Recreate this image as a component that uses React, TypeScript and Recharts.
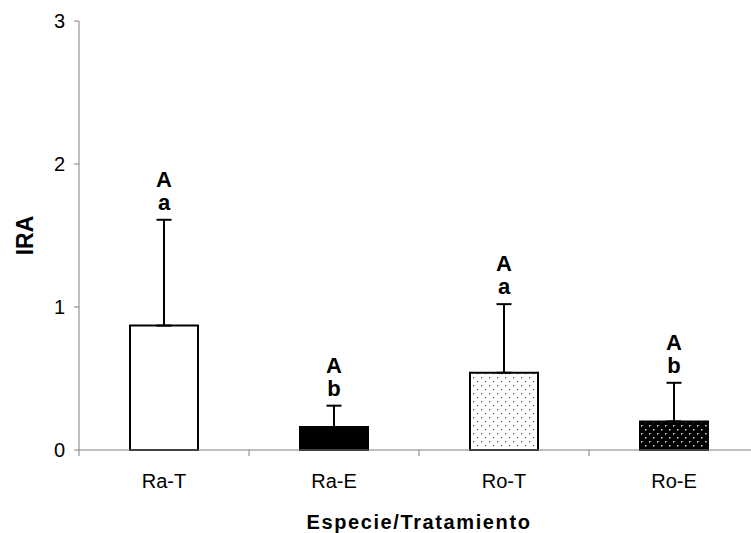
import { Bar, BarChart, Cell, ErrorBar, LabelList, XAxis, YAxis } from "recharts";

const categories = ["Ra-T", "Ra-E", "Ro-T", "Ro-E"];
const means = [0.87, 0.16, 0.54, 0.2];
const upperErrors = [0.74, 0.15, 0.48, 0.27];
const groupLetters = ["A", "A", "A", "A"];
const treatmentLetters = ["a", "b", "a", "b"];
const yTicks = [0, 1, 2, 3];

const fills = ["#ffffff", "#000000", "url(#dotsLight)", "url(#dotsDark)"];

const data = categories.map((name, i) => ({
  name,
  value: means[i],
  err: [0, upperErrors[i]],
}));

const FONT = "'Liberation Sans', Arial, sans-serif";

function CategoryTick(props: any) {
  const { x, y, payload } = props;
  const half = payload?.offset ?? 85;
  const axisY = y - 8;
  return (
    <g>
      <line x1={x - half} x2={x - half} y1={axisY} y2={axisY + 6} stroke="#808080" strokeWidth={1} />
      <text x={x} y={axisY + 38} textAnchor="middle" fontSize={20} fontFamily={FONT} fill="#000">
        {payload.value}
      </text>
    </g>
  );
}

function LetterLabel(props: any) {
  const { x, y, width, height, value } = props;
  const i = categories.indexOf(value);
  if (i < 0) return null;
  const perUnit = height / means[i];
  const capY = y - upperErrors[i] * perUnit;
  const cx = x + width / 2;
  return (
    <g fontFamily={FONT} fontWeight="bold" fontSize={22} fill="#000" textAnchor="middle">
      <text x={cx} y={capY - 33}>{groupLetters[i]}</text>
      <text x={cx} y={capY - 10}>{treatmentLetters[i]}</text>
    </g>
  );
}

export default function App() {
  return (
    <div
      style={{
        position: "absolute",
        left: 0,
        top: 0,
        width: 751,
        height: 533,
        overflow: "hidden",
        background: "#fff",
      }}
    >
      <BarChart
        width={770}
        height={533}
        data={data}
        margin={{ top: 21, right: 11, left: 0, bottom: 0 }}
      >
        <defs>
          <pattern id="dotsLight" width="8" height="8" patternUnits="userSpaceOnUse">
            <rect width="8" height="8" fill="#ffffff" />
            <rect x="1" y="1" width="1.2" height="1.2" fill="#555" />
            <rect x="5" y="5" width="1.2" height="1.2" fill="#555" />
          </pattern>
          <pattern id="dotsDark" width="8" height="8" patternUnits="userSpaceOnUse">
            <rect width="8" height="8" fill="#000000" />
            <rect x="1" y="1" width="1.5" height="1.5" fill="#d8d8d8" />
            <rect x="5" y="5" width="1.5" height="1.5" fill="#d8d8d8" />
          </pattern>
        </defs>
        <XAxis
          dataKey="name"
          height={83}
          tickLine={false}
          tickSize={6}
          tickMargin={2}
          axisLine={{ stroke: "#808080", strokeWidth: 1 }}
          tick={<CategoryTick />}
          interval={0}
          label={{
            content: (p: any) => {
              const vb = p.viewBox || { x: 79, y: 450, width: 680, height: 83 };
              return (
                <text
                  x={vb.x + vb.width / 2}
                  y={vb.y + 79}
                  textAnchor="middle"
                  fontFamily={FONT}
                  fontWeight="bold"
                  fontSize={20}
                  letterSpacing={1.6}
                  fill="#000"
                >
                  Especie/Tratamiento
                </text>
              );
            },
          }}
        />
        <YAxis
          width={79}
          domain={[0, 3]}
          ticks={yTicks}
          interval={0}
          tickSize={5}
          tickMargin={9}
          axisLine={{ stroke: "#808080", strokeWidth: 1 }}
          tickLine={{ stroke: "#808080", strokeWidth: 1 }}
          tick={{ fontSize: 20, fontFamily: FONT, fill: "#000" }}
          label={{
            content: (p: any) => {
              const vb = p.viewBox || { x: 0, y: 21, width: 79, height: 429 };
              const cx = vb.x + 25;
              const cy = vb.y + vb.height / 2;
              return (
                <text
                  x={cx}
                  y={cy}
                  transform={`rotate(-90 ${cx} ${cy})`}
                  textAnchor="middle"
                  dominantBaseline="central"
                  fontFamily={FONT}
                  fontWeight="bold"
                  fontSize={23}
                  fill="#000"
                >
                  IRA
                </text>
              );
            },
          }}
        />
        <Bar dataKey="value" barSize={68} stroke="#000" strokeWidth={2} isAnimationActive={false}>
          {data.map((d, i) => (
            <Cell key={d.name} fill={fills[i]} />
          ))}
          <ErrorBar dataKey="err" width={7.5} strokeWidth={2} stroke="#000" direction="y" isAnimationActive={false} />
          <LabelList dataKey="name" content={<LetterLabel />} />
        </Bar>
      </BarChart>
    </div>
  );
}
